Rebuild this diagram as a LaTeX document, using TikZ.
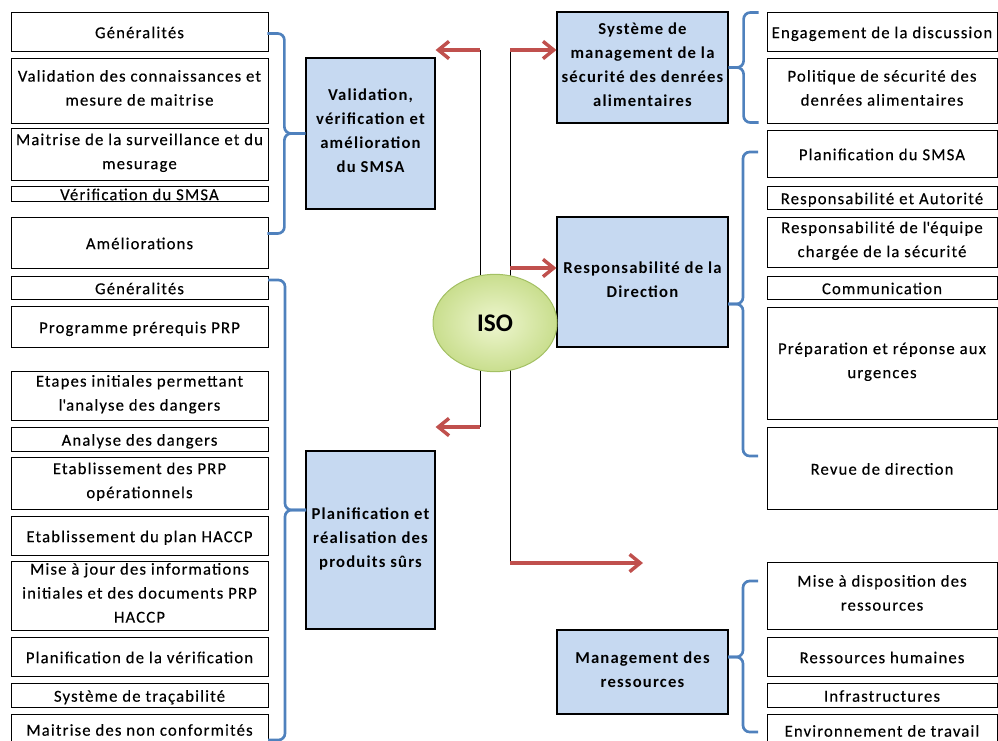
\documentclass[tikz,border=0pt]{standalone}
\usepackage{fontspec}
\setmainfont{Carlito}[LetterSpace=7, UprightFeatures={FakeBold=0.3}]
\newfontfamily\isofont{Carlito}
\usepackage{xcolor}
\definecolor{headblue}{HTML}{C6D9F1}
\definecolor{braceblue}{HTML}{4F81BD}
\definecolor{arrowred}{HTML}{C0504D}
\definecolor{isoin}{HTML}{EEF6CF}
\definecolor{isoout}{HTML}{C9DE8E}
\definecolor{isoline}{HTML}{A3C063}
\usetikzlibrary{arrows.meta,shapes.geometric}
\newcommand{\itemstrut}{\rule[-4pt]{0pt}{18pt}}
\tikzset{
  every picture/.style={x=0.75pt, y=-0.75pt, font=\fontsize{12.5}{18}\selectfont},
  item/.style={draw=black, line width=0.75pt, fill=white, align=center, inner xsep=0pt, inner ysep=-4pt,
    execute at begin node=\itemstrut, execute at end node=\itemstrut},
  litem/.style={item, minimum width=192.75pt},
  ritem/.style={item, minimum width=172.5pt},
  head/.style={item, fill=headblue, line width=0.9pt, font=\fontsize{12.5}{18}\selectfont\bfseries},
  brace/.style={draw=braceblue, line width=2pt, rounded corners=5pt},
  arr/.style={-{Straight Barb[length=8pt, width=13pt]}, draw=arrowred, line width=2.6pt},
  trunk/.style={draw=black, line width=0.75pt},
}

\begin{document}
\begin{tikzpicture}[
    iso/.style={ellipse, draw=isoline, line width=0.75pt, inner color=isoin, outer color=isoout,
      minimum width=93pt, minimum height=73pt, font=\isofont\fontsize{19}{22}\selectfont\bfseries}]
  \useasboundingbox (0,0) rectangle (998,740);
  \clip (0,0) rectangle (998,740);

  \coordinate (ltop) at (480,50);
  \coordinate (lbot) at (480,427);
  \coordinate (rtop) at (510,50);
  \coordinate (rmid) at (510,268);
  \coordinate (rbot) at (510,563);
  \coordinate (rend) at (643,563);

  \node[head, minimum width=96.75pt, minimum height=113.25pt] (valid) at (370.5,133.5) {Validation,\\vérification et\\amélioration\\du SMSA};
  \node[head, minimum width=96.75pt, minimum height=133.5pt] (plan) at (370.5,540) {Planification et\\réalisation des\\produits sûrs};
  \node[head, minimum width=128.25pt, minimum height=83.25pt] (sys) at (642.5,67.5) {Système de\\management de la\\sécurité des denrées\\alimentaires};
  \node[head, minimum width=128.25pt, minimum height=97.5pt] (resp) at (642.5,282) {Responsabilité de la\\Direction};
  \node[head, minimum width=128.25pt, minimum height=63pt] (mgmt) at (642.5,672) {Management des\\ressources};

  \draw[trunk] (ltop) -- (lbot);
  \draw[trunk] (rtop) -- (rbot);
  \draw[arr] (ltop) -- (ltop -| valid.east);
  \draw[arr] (lbot) -- (lbot -| plan.east);
  \draw[arr] (rtop) -- (rtop -| sys.west);
  \draw[arr] (rmid) -- (rmid -| resp.west);
  \draw[arr] (rbot) -- (rend);
  \node[iso] (iso) at (495,323) {ISO};

  \foreach \name/\ya/\yb/\txt in {
      lg1/12/51/{Généralités},
      lg2/58/123/{Validation des connaissances et\\mesure de maitrise},
      lg3/128/180/{Maitrise de la surveillance et du\\mesurage},
      lg4/186/201/{Vérification du SMSA},
      lg5/217/268/{Améliorations},
      lp1/276/299/{Généralités},
      lp2/306/347/{Programme prérequis PRP},
      lp3/371/420/{Etapes initiales permettant\\l\textquotesingle analyse des dangers},
      lp4/427/451/{Analyse des dangers},
      lp5/457/509/{Etablissement des PRP\\opérationnels},
      lp6/516/555/{Etablissement du plan HACCP},
      lp7/561/630/{Mise à jour des informations\\initiales et des documents PRP\\HACCP},
      lp8/637/676/{Planification de la vérification},
      lp9/683/707/{Système de traçabilité},
      lp10/714/744/{Maitrise des non conformités}} {
    \node[litem, minimum height={(\yb-\ya)*0.75pt}] (\name) at (139.5,{(\ya+\yb)/2}) {\txt};
  }

  \foreach \name/\ya/\yb/\txt in {
      rs1/12/51/{Engagement de la discussion},
      rs2/58/123/{Politique de sécurité des\\denrées alimentaires},
      rr1/130/177/{Planification du SMSA},
      rr2/186/209/{Responsabilité et Autorité},
      rr3/217/267/{Responsabilité de l\textquotesingle équipe\\chargée de la sécurité},
      rr4/276/299/{Communication},
      rr5/307/419/{Préparation et réponse aux\\urgences},
      rr6/427/509/{Revue de direction},
      rm1/562/629/{Mise à disposition des\\ressources},
      rm2/637/676/{Ressources humaines},
      rm3/683/707/{Infrastructures},
      rm4/714/746/{Environnement de travail}} {
    \node[ritem, minimum height={(\yb-\ya)*0.75pt}] (\name) at (882,{(\ya+\yb)/2}) {\txt};
  }

  \coordinate (plantip) at (306,510);
  \coordinate (resptip) at (728,304);
  \coordinate (mgmttip) at (728,657);
  \draw[brace] (valid.west) -- ++(-21,0) |- ++(-17,-100);
  \draw[brace] (valid.west) -- ++(-21,0) |- ++(-17,100);
  \draw[brace] (plantip) -- ++(-21,0) |- ++(-17,-230);
  \draw[brace] (plantip) -- ++(-21,0) |- ++(-17,230);
  \draw[brace] (sys.east) -- ++(15,0) |- ++(15,-55);
  \draw[brace] (sys.east) -- ++(15,0) |- ++(15,55);
  \draw[brace] (resptip) -- ++(15,0) |- ++(15,-152);
  \draw[brace] (resptip) -- ++(15,0) |- ++(15,152);
  \draw[brace] (mgmttip) -- ++(15,0) |- ++(15,-76);
  \draw[brace] (mgmttip) -- ++(15,0) |- ++(15,75);
\end{tikzpicture}
\end{document}
